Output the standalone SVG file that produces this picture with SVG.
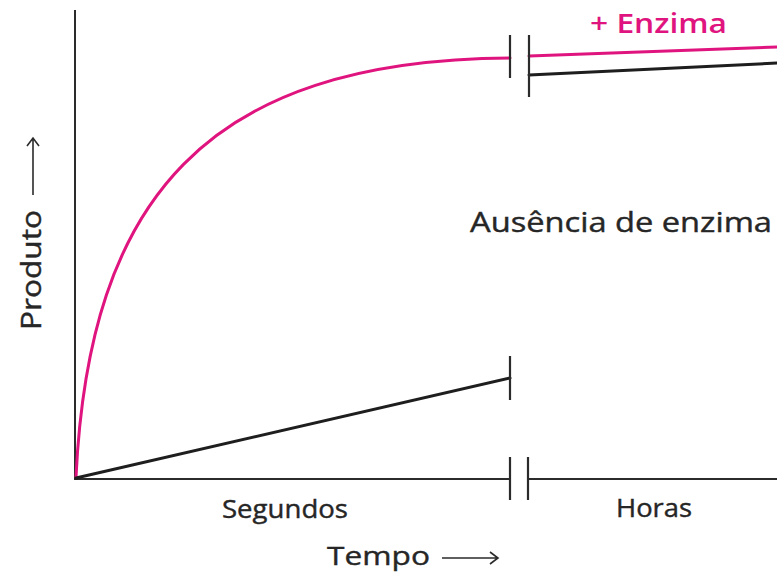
<svg xmlns="http://www.w3.org/2000/svg" width="777" height="583" viewBox="0 0 777 583">
<style>
.ax{stroke:#2b2b2b;stroke-width:2;fill:none}
.tk{stroke:#2b2b2b;stroke-width:2.2;fill:none}
.pk{stroke:#e0147e;stroke-width:3;fill:none;stroke-linecap:round}
.bk{stroke:#1e1e1e;stroke-width:3;fill:none;stroke-linecap:round}
.lb{font-family:"Open Sans","Noto Sans","Liberation Sans",sans-serif;fill:#262626;stroke:#262626;stroke-width:0.4}
.pl{font-family:"Open Sans","Noto Sans","Liberation Sans",sans-serif;fill:#e0147e;font-weight:600}
.ar{stroke:#2b2b2b;stroke-width:1.6;fill:none}
</style>
<rect width="777" height="583" fill="#ffffff"/>
<g id="axes">
<path class="ax" d="M75,10 V479 H510 M528,479 H777"/>
<path class="tk" d="M510,457 V500 M528,457 V500"/>
</g>
<g id="connectors">
<path id="curve-enzima" class="pk" d="M76,477 C89,200 205,60 510,58"/>
<path id="curve-enzima-hours" class="pk" d="M529,56 L777,47"/>
<path id="line-no-enzyme" class="bk" d="M76,478 L510,378"/>
<path id="line-no-enzyme-hours" class="bk" d="M529,75 L777,63"/>
<path class="tk" d="M510,356 V400"/>
<path class="tk" d="M510,35 V78 M529,35 V97"/>
</g>
<g id="label-enzima">
<text class="pl" x="590" y="33" font-size="27" textLength="137" lengthAdjust="spacingAndGlyphs">+ Enzima</text>
</g>
<g id="label-ausencia">
<text class="lb" x="470" y="232" font-size="27" textLength="302" lengthAdjust="spacingAndGlyphs">Ausência de enzima</text>
</g>
<g id="label-segundos">
<text class="lb" x="222" y="518" font-size="25" textLength="126" lengthAdjust="spacingAndGlyphs">Segundos</text>
</g>
<g id="label-horas">
<text class="lb" x="616" y="517" font-size="25" textLength="76" lengthAdjust="spacingAndGlyphs">Horas</text>
</g>
<g id="label-tempo">
<text class="lb" x="327" y="565" font-size="26" textLength="103" lengthAdjust="spacingAndGlyphs">Tempo</text>
<path class="ar" d="M442,558 H498 M490,552 L498,558 L490,564"/>
</g>
<g id="label-produto">
<text class="lb" transform="translate(41,330) rotate(-90)" x="0" y="0" font-size="27" textLength="120" lengthAdjust="spacingAndGlyphs">Produto</text>
<path class="ar" d="M33,195 V138 M27,146 L33,138 L39,146"/>
</g>
</svg>
